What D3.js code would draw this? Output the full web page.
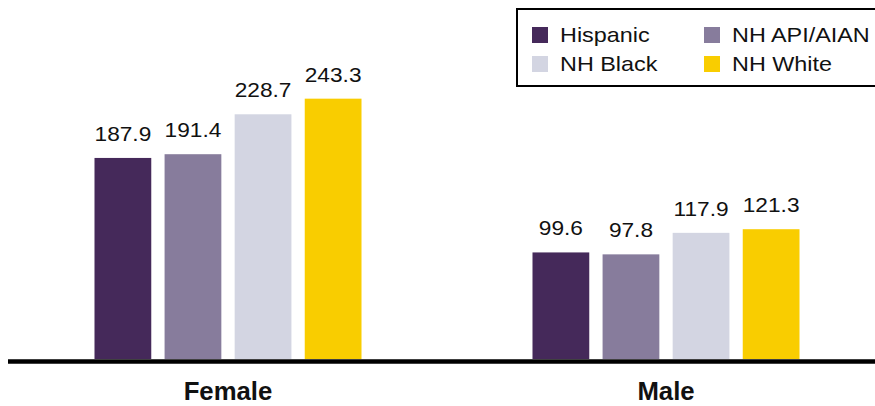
<!DOCTYPE html>
<html>
<head>
<meta charset="utf-8">
<script src="https://cdn.jsdelivr.net/npm/d3@7"></script>
<style>
  body { margin: 0; background: #fff; }
  text { font-family: "Liberation Sans", Arial, sans-serif; fill: #111; }
</style>
</head>
<body>
<div id="chart"></div>
<script>
// data
var categories = ["Female", "Male"];
var groups = ["Hispanic", "NH API/AIAN", "NH Black", "NH White"];
var femaleValues = [187.9, 191.4, 228.7, 243.3];
var maleValues = [99.6, 97.8, 117.9, 121.3];
var colors = ["#45295a", "#877c9c", "#d3d5e2", "#f9cd00"];

var seriesValues = { Female: femaleValues, Male: maleValues };

var width = 875, height = 406;

var svg = d3.select("#chart").append("svg")
    .attr("width", width)
    .attr("height", height);

// scales
var x0 = d3.scaleBand()
    .domain(categories)
    .range([9, 885]);

var x1 = d3.scaleBand()
    .domain(groups)
    .range([0, x0.bandwidth()])
    .paddingInner(0.19)
    .paddingOuter(1.22);

var y = d3.scaleLinear()
    .domain([0, 300])
    .range([359, 38]);

var color = d3.scaleOrdinal().domain(groups).range(colors);

// bars
var cat = svg.selectAll("g.cat")
    .data(categories)
    .enter().append("g")
    .attr("class", "cat")
    .attr("transform", function(c) { return "translate(" + x0(c) + ",0)"; });

function barData(c) {
    return groups.map(function(g, i) { return {group: g, value: seriesValues[c][i]}; });
}

cat.selectAll("rect")
    .data(barData)
    .enter().append("rect")
    .attr("x", function(d) { return x1(d.group); })
    .attr("width", x1.bandwidth())
    .attr("y", function(d) { return y(d.value); })
    .attr("height", function(d) { return y(0) - y(d.value); })
    .attr("fill", function(d) { return color(d.group); });

// value labels (source text is a bit stretched sideways)
cat.selectAll("text.val")
    .data(barData)
    .enter().append("text")
    .attr("class", "val")
    .attr("transform", function(d) {
        return "translate(" + (x1(d.group) + x1.bandwidth() / 2) + "," + (y(d.value) - 17) + ") scale(1.08,1)";
    })
    .attr("text-anchor", "middle")
    .style("font-size", "21px")
    .text(function(d) { return d3.format(".1f")(d.value); });

// baseline
svg.append("line")
    .attr("x1", 8).attr("x2", width)
    .attr("y1", y(0) + 2.5).attr("y2", y(0) + 2.5)
    .attr("stroke", "#000")
    .attr("stroke-width", 4.5);

// category labels
svg.selectAll("text.cat")
    .data(categories)
    .enter().append("text")
    .attr("class", "cat")
    .attr("transform", function(c) {
        return "translate(" + (x0(c) + x0.bandwidth() / 2) + ",400) scale(1.03,1)";
    })
    .attr("text-anchor", "middle")
    .style("font-size", "25px")
    .style("font-weight", "bold")
    .text(function(c) { return c; });

// legend
var legend = svg.append("g").attr("transform", "translate(516,8)");

legend.append("rect")
    .attr("x", 1).attr("y", 1)
    .attr("width", 400).attr("height", 77)
    .attr("fill", "#fff")
    .attr("stroke", "#000")
    .attr("stroke-width", 2);

var items = legend.selectAll("g.item")
    .data(groups)
    .enter().append("g")
    .attr("class", "item")
    .attr("transform", function(g, i) {
        return "translate(" + (16 + (i % 2) * 172) + "," + (19 + Math.floor(i / 2) * 29) + ")";
    });

items.append("rect")
    .attr("width", 16).attr("height", 16)
    .attr("fill", function(g) { return color(g); });

items.append("text")
    .attr("transform", "translate(28,15) scale(1.17,1)")
    .style("font-size", "20px")
    .text(function(g) { return g; });
</script>
</body>
</html>
